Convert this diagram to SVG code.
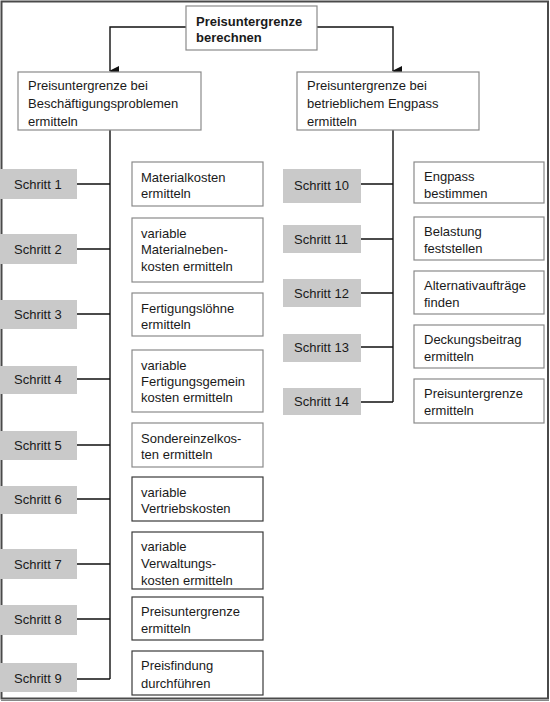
<svg xmlns="http://www.w3.org/2000/svg" width="550" height="702" viewBox="0 0 550 702">
<defs>
<style>
text{font-family:"Liberation Sans",Arial,sans-serif;font-size:13px;fill:#1a1a1a}
.b{font-weight:bold}
.box{fill:#fff;stroke:#8a8a8a;stroke-width:1.2}
.boxd{fill:#fff;stroke:#3a3a3a;stroke-width:1.2}
.step{fill:#c9c9c9;stroke:none}
.ln{stroke:#111;stroke-width:1.4;fill:none}
</style>
<marker id="ah" markerWidth="10" markerHeight="10" refX="5" refY="9" orient="auto" markerUnits="userSpaceOnUse" viewBox="0 0 10 10">
<path d="M0,0 L10,0 L5,10 Z" fill="#111"/>
</marker>
</defs>
<rect x="0" y="0" width="550" height="702" fill="#fff"/>
<rect x="1.5" y="1.5" width="546.5" height="697" fill="none" stroke="#4a4a4a" stroke-width="2"/>
<line x1="1" y1="700.5" x2="549" y2="700.5" stroke="#888" stroke-width="1"/>

<g id="connectors">
<path class="ln" d="M186,27 H110 V71" marker-end="url(#ah)"/>
<path class="ln" d="M317,27 H393 V71" marker-end="url(#ah)"/>
<path class="ln" d="M110,130 V679"/>
<path class="ln" d="M77,184 H110 M77,249 H110 M77,314 H110 M77,379 H110 M77,445 H110 M77,499 H110 M77,564 H110 M77,619 H110 M77,679 H110"/>
<path class="ln" d="M393,130 V402"/>
<path class="ln" d="M361,184 H393 M361,239 H393 M361,293 H393 M361,347 H393 M361,402 H393"/>
</g>

<g id="top"><rect class="box" x="186" y="6" width="131" height="44"/><text class="b" x="196" y="26">Preisuntergrenze</text><text class="b" x="196" y="42">berechnen</text></g>
<g id="left-head"><rect class="box" x="18" y="72" width="183" height="58"/><text x="28" y="90">Preisuntergrenze bei</text><text x="28" y="108">Beschäftigungsproblemen</text><text x="28" y="126">ermitteln</text></g>
<g id="right-head"><rect class="box" x="297" y="72" width="182" height="58"/><text x="307" y="90">Preisuntergrenze bei</text><text x="307" y="108">betrieblichem Engpass</text><text x="307" y="126">ermitteln</text></g>

<g id="s1"><rect class="step" x="0" y="169" width="77" height="30"/><text x="14" y="188.5">Schritt 1</text></g>
<g id="s2"><rect class="step" x="0" y="234" width="77" height="30"/><text x="14" y="253.5">Schritt 2</text></g>
<g id="s3"><rect class="step" x="0" y="300" width="77" height="29"/><text x="14" y="318.5">Schritt 3</text></g>
<g id="s4"><rect class="step" x="0" y="366" width="77" height="28"/><text x="14" y="383.5">Schritt 4</text></g>
<g id="s5"><rect class="step" x="0" y="431" width="77" height="29"/><text x="14" y="449.5">Schritt 5</text></g>
<g id="s6"><rect class="step" x="0" y="486" width="77" height="28"/><text x="14" y="503.5">Schritt 6</text></g>
<g id="s7"><rect class="step" x="0" y="549" width="77" height="30"/><text x="14" y="568.5">Schritt 7</text></g>
<g id="s8"><rect class="step" x="0" y="605" width="77" height="30"/><text x="14" y="623.5">Schritt 8</text></g>
<g id="s9"><rect class="step" x="0" y="663" width="77" height="29"/><text x="14" y="682.5">Schritt 9</text></g>

<g id="s10"><rect class="step" x="283" y="169" width="78" height="34"/><text x="294" y="190">Schritt 10</text></g>
<g id="s11"><rect class="step" x="283" y="225" width="78" height="28"/><text x="294" y="243.5">Schritt 11</text></g>
<g id="s12"><rect class="step" x="283" y="279" width="78" height="28"/><text x="294" y="297.5">Schritt 12</text></g>
<g id="s13"><rect class="step" x="283" y="334" width="78" height="28"/><text x="294" y="352">Schritt 13</text></g>
<g id="s14"><rect class="step" x="283" y="388" width="78" height="27"/><text x="294" y="406">Schritt 14</text></g>

<g id="t1"><rect class="box" x="132" y="162" width="131" height="44"/><text x="141" y="181.5">Materialkosten</text><text x="141" y="198">ermitteln</text></g>
<g id="t2"><rect class="box" x="132" y="218" width="131" height="64"/><text x="141" y="237.5">variable</text><text x="141" y="254">Materialneben-</text><text x="141" y="270.5">kosten ermitteln</text></g>
<g id="t3"><rect class="box" x="132" y="293" width="131" height="43"/><text x="141" y="312.5">Fertigungslöhne</text><text x="141" y="329">ermitteln</text></g>
<g id="t4"><rect class="box" x="132" y="350" width="131" height="62"/><text x="141" y="369.5">variable</text><text x="141" y="386">Fertigungsgemein</text><text x="141" y="402">kosten ermitteln</text></g>
<g id="t5"><rect class="box" x="132" y="423" width="131" height="44"/><text x="141" y="442.5">Sondereinzelkos-</text><text x="141" y="459">ten ermitteln</text></g>
<g id="t6"><rect class="boxd" x="132" y="477" width="131" height="44"/><text x="141" y="496.5">variable</text><text x="141" y="513">Vertriebskosten</text></g>
<g id="t7"><rect class="boxd" x="132" y="532" width="131" height="57"/><text x="141" y="550.5">variable</text><text x="141" y="567.5">Verwaltungs-</text><text x="141" y="585">kosten ermitteln</text></g>
<g id="t8"><rect class="boxd" x="132" y="597" width="131" height="43"/><text x="141" y="615.5">Preisuntergrenze</text><text x="141" y="633">ermitteln</text></g>
<g id="t9"><rect class="boxd" x="132" y="651" width="131" height="44"/><text x="141" y="670">Preisfindung</text><text x="141" y="687.5">durchführen</text></g>

<g id="t10"><rect class="box" x="414" y="162" width="130" height="41"/><text x="424" y="180.5">Engpass</text><text x="424" y="197.5">bestimmen</text></g>
<g id="t11"><rect class="box" x="414" y="217" width="130" height="43"/><text x="424" y="235.5">Belastung</text><text x="424" y="252.5">feststellen</text></g>
<g id="t12"><rect class="box" x="414" y="271" width="130" height="43"/><text x="424" y="289.5">Alternativaufträge</text><text x="424" y="306.5">finden</text></g>
<g id="t13"><rect class="box" x="414" y="325" width="130" height="43"/><text x="424" y="343.5">Deckungsbeitrag</text><text x="424" y="360.5">ermitteln</text></g>
<g id="t14"><rect class="box" x="414" y="379" width="130" height="44"/><text x="424" y="397.5">Preisuntergrenze</text><text x="424" y="414.5">ermitteln</text></g>
</svg>
